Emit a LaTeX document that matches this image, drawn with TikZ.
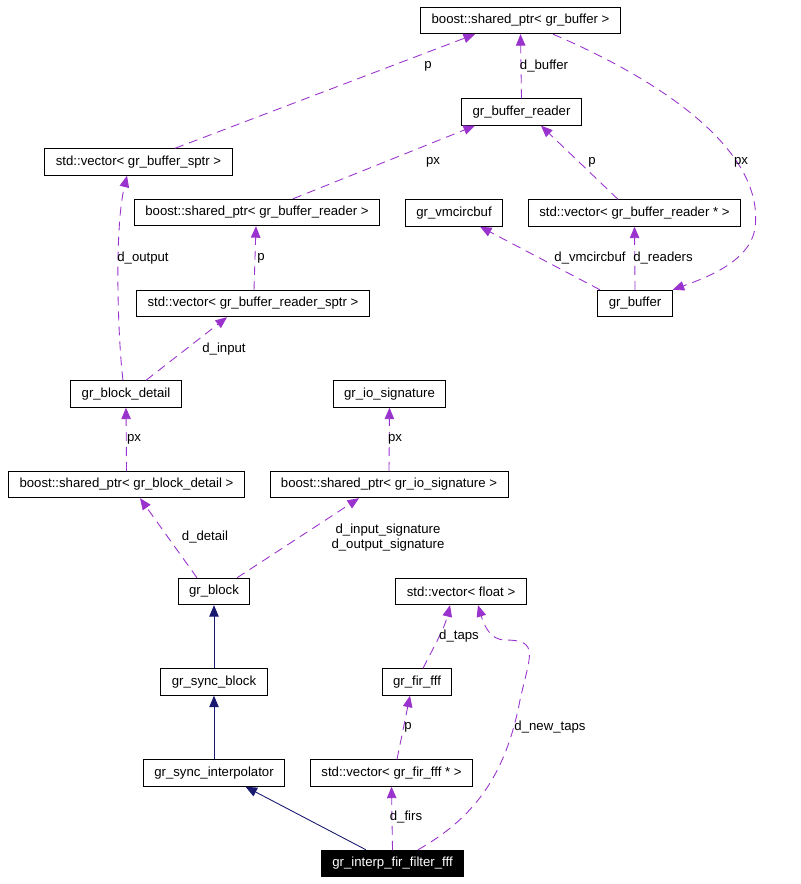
\documentclass[tikz,border=0pt]{standalone}
\usepackage{fontspec}
\setmainfont{Liberation Sans}
\usepackage{tikz}
\usetikzlibrary{arrows.meta, positioning, calc}
\definecolor{edgepurple}{HTML}{9A32CD}
\definecolor{edgenavy}{HTML}{191970}

\begin{document}
\begin{tikzpicture}[
    x=0.02cm, y=-0.02cm,
    font=\fontsize{7.5}{8.6}\selectfont,
    cls/.style={rectangle, draw, line width=0.5pt, minimum height=0.53cm, inner xsep=0.22cm, inner ysep=0pt},
    focus/.style={cls, fill=black, text=white},
    usage/.style={-{Triangle[length=0.23cm, width=0.19cm]}, edgepurple, line width=0.5pt, dash pattern=on 0.18cm off 0.12cm},
    inherit/.style={-{Triangle[length=0.23cm, width=0.19cm]}, edgenavy, line width=0.5pt},
    lbl/.style={inner sep=0pt, align=center}
]
    \useasboundingbox (0,0) rectangle (800,884);

    % classes
    \node [cls] (bspbuf) at (520.5,20.5) {boost::shared\_ptr< gr\_buffer >};
    \node [cls] (reader) at (521.5,112) {gr\_buffer\_reader};
    \node [cls] (vmcirc) at (454,213) {gr\_vmcircbuf};
    \node [cls] (vreaders) at (634.5,213) {std::vector< gr\_buffer\_reader * >};
    \node [cls] (buffer) at (635,303.5) {gr\_buffer};
    \node [cls] (vbufsptr) at (138.5,162) {std::vector< gr\_buffer\_sptr >};
    \node [cls] (bspreader) at (257,212.5) {boost::shared\_ptr< gr\_buffer\_reader >};
    \node [cls] (vreadsptr) at (253,303.5) {std::vector< gr\_buffer\_reader\_sptr >};
    \node [cls] (detail) at (126,394) {gr\_block\_detail};
    \node [cls] (iosig) at (389.5,394) {gr\_io\_signature};
    \node [cls] (bspdetail) at (126.5,484.5) {boost::shared\_ptr< gr\_block\_detail >};
    \node [cls] (bspiosig) at (389,484.5) {boost::shared\_ptr< gr\_io\_signature >};
    \node [cls] (block) at (214,591.5) {gr\_block};
    \node [cls] (vfloat) at (461,591.5) {std::vector< float >};
    \node [cls] (syncblock) at (214,682) {gr\_sync\_block};
    \node [cls] (firfff) at (417,682) {gr\_fir\_fff};
    \node [cls] (syncinterp) at (214,773) {gr\_sync\_interpolator};
    \node [cls] (vfirs) at (391.5,773) {std::vector< gr\_fir\_fff * >};
    \node [focus] (interp) at (392.5,863.5) {gr\_interp\_fir\_filter\_fff};

    % usage relations
    \draw [usage] ($(vbufsptr.north)+(36.5,0)$) -- ($(bspbuf.south)+(-45.5,0)$);
    \draw [usage] (reader.north) -- (bspbuf.south);
    \draw [usage] ($(bspreader.north)+(36,0)$) -- ($(reader.south)+(-46.5,0)$);
    \draw [usage] ($(vreaders.north)+(-16.5,0)$) -- ($(reader.south)+(19.5,0)$);
    \draw [usage] ($(bspbuf.south)+(32.5,0)$) .. controls (660,80) and (765,150) .. (755,228)
        .. controls (750,262) and (705,278) .. (buffer.north east);
    \draw [usage] ($(buffer.north)+(-35,0)$) -- ($(vmcirc.south)+(26,0)$);
    \draw [usage] (buffer.north) -- (vreaders.south);
    \draw [usage] ($(detail.north)+(-3,0)$) .. controls (118,340) and (114,230) .. ($(vbufsptr.south)+(-11.5,0)$);
    \draw [usage] ($(detail.north)+(20,0)$) -- ($(vreadsptr.south)+(-26,0)$);
    \draw [usage] ($(vreadsptr.north)+(1,0)$) -- ($(bspreader.south)+(-1,0)$);
    \draw [usage] (bspdetail.north) -- (detail.south);
    \draw [usage] (bspiosig.north) -- (iosig.south);
    \draw [usage] ($(block.north)+(-17,0)$) -- ($(bspdetail.south)+(13.5,0)$);
    \draw [usage] ($(block.north)+(23,0)$) -- ($(bspiosig.south)+(-30,0)$);
    \draw [usage] ($(firfff.north)+(6,0)$) .. controls (432,650) and (444,630) .. ($(vfloat.south)+(-11,0)$);
    \draw [usage] ($(vfirs.north)+(5.5,0)$) .. controls (402,735) and (406,715) .. ($(firfff.south)+(-7,0)$);
    \draw [usage] (interp.north) -- (vfirs.south);
    \draw [usage] ($(interp.north)+(25.5,0)$) .. controls (470,820) and (505,780) .. (520,700)
        .. controls (530,655) and (540,640) .. (505,640)
        .. controls (490,640) and (484,625) .. ($(vfloat.south)+(17,0)$);

    % inheritance
    \draw [inherit] (syncblock) -- (block);
    \draw [inherit] (syncinterp) -- (syncblock);
    \draw [inherit] ($(interp.north)+(-26.5,0)$) -- ($(syncinterp.south)+(31.5,0)$);

    % edge labels
    \node [lbl] (l1) at (428,66) {p};
    \node [lbl] (l2) at (544,66) {d\_buffer};
    \node [lbl] (l3) at (433,162) {px};
    \node [lbl] (l4) at (592,162) {p};
    \node [lbl] (l5) at (741,162) {px};
    \node [lbl] (l6) at (143,258) {d\_output};
    \node [lbl] (l7) at (261,258) {p};
    \node [lbl] (l8) at (590,258) {d\_vmcircbuf};
    \node [lbl] (l9) at (663,258) {d\_readers};
    \node [lbl] (l10) at (224,349) {d\_input};
    \node [lbl] (l11) at (134,439) {px};
    \node [lbl] (l12) at (395,439) {px};
    \node [lbl] (l13) at (205,537) {d\_detail};
    \node [lbl] (l14) at (388,538) {d\_input\_signature\\d\_output\_signature};
    \node [lbl] (l15) at (459,636) {d\_taps};
    \node [lbl] (l16) at (408,727) {p};
    \node [lbl] (l17) at (550,727) {d\_new\_taps};
    \node [lbl] (l18) at (406,817) {d\_firs};
\end{tikzpicture}
\end{document}
